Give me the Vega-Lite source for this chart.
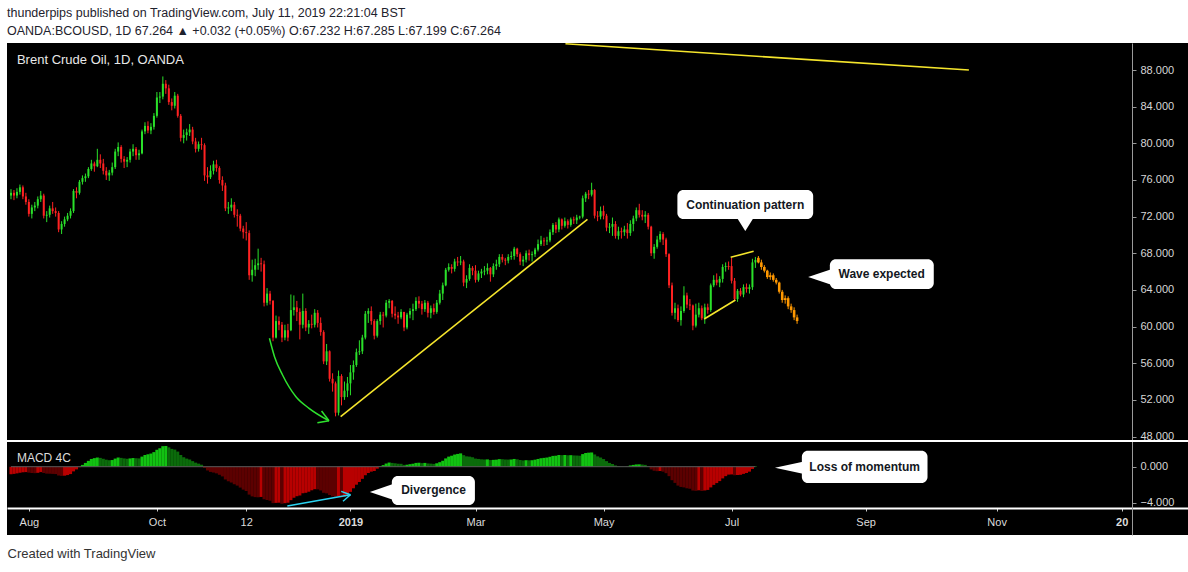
{
"$schema": "https://vega.github.io/schema/vega-lite/v6.json",
"width": 1181,
"height": 492,
"autosize": {"type": "none"},
"padding": {"left": 7, "top": 43, "right": 0, "bottom": 37},
"background": "#ffffff",
"title": {"text": "thunderpips published on TradingView.com, July 11, 2019 22:21:04 BST", "subtitle": "OANDA:BCOUSD, 1D  67.264 ▲ +0.032 (+0.05%)  O:67.232  H:67.285  L:67.199  C:67.264", "anchor": "start", "frame": "group", "offset": 6, "font": "Liberation Sans", "fontSize": 12.5, "fontWeight": "normal", "color": "#1e222d", "subtitleFont": "Liberation Sans", "subtitleFontSize": 12.5, "subtitleColor": "#1e222d", "subtitlePadding": 5},
"config": {"view": {"fill": "#000000", "stroke": null}, "font": "Liberation Sans"},
"datasets": {
"bars": [
{"i":0,"d":"2018-07-24","o":74.3,"h":75.0,"l":73.9,"c":74.6,"m":-0.85,"k":"nu"},
{"i":1,"d":"2018-07-25","o":74.6,"h":74.9,"l":73.8,"c":74.3,"m":-0.80,"k":"nu"},
{"i":2,"d":"2018-07-26","o":74.3,"h":75.1,"l":74.0,"c":74.7,"m":-0.74,"k":"nu"},
{"i":3,"d":"2018-07-27","o":74.7,"h":75.5,"l":74.4,"c":75.2,"m":-0.68,"k":"nu"},
{"i":4,"d":"2018-07-30","o":75.2,"h":75.4,"l":73.9,"c":74.2,"m":-0.62,"k":"nu"},
{"i":5,"d":"2018-07-31","o":74.2,"h":74.6,"l":73.3,"c":73.6,"m":-0.60,"k":"nu"},
{"i":6,"d":"2018-08-01","o":73.6,"h":73.9,"l":72.0,"c":72.3,"m":-0.66,"k":"nd"},
{"i":7,"d":"2018-08-02","o":72.3,"h":73.3,"l":71.8,"c":73.0,"m":-0.70,"k":"nd"},
{"i":8,"d":"2018-08-03","o":73.0,"h":73.6,"l":72.6,"c":73.2,"m":-0.72,"k":"nd"},
{"i":9,"d":"2018-08-06","o":73.2,"h":74.2,"l":72.9,"c":73.9,"m":-0.68,"k":"nu"},
{"i":10,"d":"2018-08-07","o":73.9,"h":74.8,"l":73.6,"c":74.3,"m":-0.60,"k":"nu"},
{"i":11,"d":"2018-08-08","o":74.3,"h":74.5,"l":71.8,"c":72.1,"m":-0.70,"k":"nd"},
{"i":12,"d":"2018-08-09","o":72.1,"h":72.6,"l":71.4,"c":72.2,"m":-0.77,"k":"nd"},
{"i":13,"d":"2018-08-10","o":72.2,"h":73.2,"l":71.9,"c":72.9,"m":-0.78,"k":"nd"},
{"i":14,"d":"2018-08-13","o":72.9,"h":73.6,"l":72.3,"c":72.6,"m":-0.80,"k":"nd"},
{"i":15,"d":"2018-08-14","o":72.6,"h":73.0,"l":72.0,"c":72.4,"m":-0.82,"k":"nd"},
{"i":16,"d":"2018-08-15","o":72.4,"h":72.6,"l":70.3,"c":70.6,"m":-0.98,"k":"nd"},
{"i":17,"d":"2018-08-16","o":70.6,"h":71.5,"l":70.1,"c":71.2,"m":-1.02,"k":"nd"},
{"i":18,"d":"2018-08-17","o":71.2,"h":72.0,"l":70.9,"c":71.7,"m":-1.00,"k":"nu"},
{"i":19,"d":"2018-08-20","o":71.7,"h":72.4,"l":71.5,"c":72.1,"m":-0.93,"k":"nu"},
{"i":20,"d":"2018-08-21","o":72.1,"h":72.9,"l":71.8,"c":72.6,"m":-0.82,"k":"nu"},
{"i":21,"d":"2018-08-22","o":72.6,"h":75.0,"l":72.4,"c":74.8,"m":-0.52,"k":"nu"},
{"i":22,"d":"2018-08-23","o":74.8,"h":75.2,"l":74.0,"c":74.6,"m":-0.30,"k":"nu"},
{"i":23,"d":"2018-08-24","o":74.6,"h":76.0,"l":74.4,"c":75.8,"m":-0.05,"k":"nu"},
{"i":24,"d":"2018-08-27","o":75.8,"h":76.5,"l":75.5,"c":76.2,"m":0.20,"k":"pu"},
{"i":25,"d":"2018-08-28","o":76.2,"h":76.7,"l":75.8,"c":76.4,"m":0.42,"k":"pu"},
{"i":26,"d":"2018-08-29","o":76.4,"h":77.4,"l":76.2,"c":77.2,"m":0.65,"k":"pu"},
{"i":27,"d":"2018-08-30","o":77.2,"h":78.2,"l":77.0,"c":77.8,"m":0.86,"k":"pu"},
{"i":28,"d":"2018-08-31","o":77.8,"h":78.0,"l":76.9,"c":77.5,"m":0.95,"k":"pu"},
{"i":29,"d":"2018-09-03","o":77.5,"h":79.4,"l":77.4,"c":78.2,"m":1.02,"k":"pu"},
{"i":30,"d":"2018-09-04","o":78.2,"h":78.8,"l":77.3,"c":77.8,"m":0.98,"k":"pd"},
{"i":31,"d":"2018-09-05","o":77.8,"h":78.3,"l":76.6,"c":77.0,"m":0.88,"k":"pd"},
{"i":32,"d":"2018-09-06","o":77.0,"h":77.4,"l":76.0,"c":76.5,"m":0.78,"k":"pd"},
{"i":33,"d":"2018-09-07","o":76.5,"h":77.1,"l":75.9,"c":76.8,"m":0.72,"k":"pd"},
{"i":34,"d":"2018-09-10","o":76.8,"h":77.9,"l":76.5,"c":77.4,"m":0.74,"k":"pu"},
{"i":35,"d":"2018-09-11","o":77.4,"h":79.4,"l":77.2,"c":79.1,"m":0.90,"k":"pu"},
{"i":36,"d":"2018-09-12","o":79.1,"h":80.1,"l":78.6,"c":79.6,"m":1.02,"k":"pu"},
{"i":37,"d":"2018-09-13","o":79.6,"h":79.8,"l":77.9,"c":78.3,"m":0.98,"k":"pd"},
{"i":38,"d":"2018-09-14","o":78.3,"h":78.6,"l":77.3,"c":78.0,"m":0.92,"k":"pd"},
{"i":39,"d":"2018-09-17","o":78.0,"h":78.5,"l":77.4,"c":78.2,"m":0.88,"k":"pd"},
{"i":40,"d":"2018-09-18","o":78.2,"h":79.4,"l":77.9,"c":79.1,"m":0.92,"k":"pu"},
{"i":41,"d":"2018-09-19","o":79.1,"h":79.9,"l":78.6,"c":79.4,"m":0.96,"k":"pu"},
{"i":42,"d":"2018-09-20","o":79.4,"h":79.6,"l":78.2,"c":78.7,"m":0.93,"k":"pd"},
{"i":43,"d":"2018-09-21","o":78.7,"h":79.3,"l":78.2,"c":78.9,"m":0.92,"k":"pd"},
{"i":44,"d":"2018-09-24","o":78.9,"h":81.5,"l":78.8,"c":81.3,"m":1.12,"k":"pu"},
{"i":45,"d":"2018-09-25","o":81.3,"h":82.3,"l":81.0,"c":81.9,"m":1.30,"k":"pu"},
{"i":46,"d":"2018-09-26","o":81.9,"h":82.4,"l":81.1,"c":81.4,"m":1.38,"k":"pu"},
{"i":47,"d":"2018-09-27","o":81.4,"h":82.2,"l":81.0,"c":81.8,"m":1.46,"k":"pu"},
{"i":48,"d":"2018-09-28","o":81.8,"h":83.3,"l":81.5,"c":83.0,"m":1.62,"k":"pu"},
{"i":49,"d":"2018-10-01","o":83.0,"h":85.6,"l":82.8,"c":85.0,"m":1.88,"k":"pu"},
{"i":50,"d":"2018-10-02","o":85.0,"h":85.6,"l":84.4,"c":85.1,"m":2.05,"k":"pu"},
{"i":51,"d":"2018-10-03","o":85.1,"h":87.3,"l":84.8,"c":86.5,"m":2.28,"k":"pu"},
{"i":52,"d":"2018-10-04","o":86.5,"h":86.9,"l":85.4,"c":86.0,"m":2.30,"k":"pu"},
{"i":53,"d":"2018-10-05","o":86.0,"h":86.4,"l":84.2,"c":84.5,"m":2.15,"k":"pd"},
{"i":54,"d":"2018-10-08","o":84.5,"h":84.9,"l":83.6,"c":84.1,"m":1.98,"k":"pd"},
{"i":55,"d":"2018-10-09","o":84.1,"h":85.6,"l":83.8,"c":85.2,"m":1.90,"k":"pd"},
{"i":56,"d":"2018-10-10","o":85.2,"h":85.4,"l":82.8,"c":83.0,"m":1.68,"k":"pd"},
{"i":57,"d":"2018-10-11","o":83.0,"h":83.2,"l":80.2,"c":80.6,"m":1.30,"k":"pd"},
{"i":58,"d":"2018-10-12","o":80.6,"h":81.5,"l":80.0,"c":80.9,"m":1.05,"k":"pd"},
{"i":59,"d":"2018-10-15","o":80.9,"h":81.6,"l":80.3,"c":81.2,"m":0.90,"k":"pd"},
{"i":60,"d":"2018-10-16","o":81.2,"h":82.1,"l":80.8,"c":81.5,"m":0.80,"k":"pd"},
{"i":61,"d":"2018-10-17","o":81.5,"h":81.8,"l":79.9,"c":80.2,"m":0.62,"k":"pd"},
{"i":62,"d":"2018-10-18","o":80.2,"h":80.6,"l":79.0,"c":79.4,"m":0.45,"k":"pd"},
{"i":63,"d":"2018-10-19","o":79.4,"h":80.2,"l":79.1,"c":79.9,"m":0.34,"k":"pd"},
{"i":64,"d":"2018-10-22","o":79.9,"h":80.6,"l":79.3,"c":79.8,"m":0.22,"k":"pd"},
{"i":65,"d":"2018-10-23","o":79.8,"h":80.0,"l":75.9,"c":76.5,"m":-0.14,"k":"nd"},
{"i":66,"d":"2018-10-24","o":76.5,"h":77.4,"l":75.6,"c":76.3,"m":-0.42,"k":"nd"},
{"i":67,"d":"2018-10-25","o":76.3,"h":77.6,"l":76.1,"c":77.0,"m":-0.58,"k":"nd"},
{"i":68,"d":"2018-10-26","o":77.0,"h":78.1,"l":76.6,"c":77.7,"m":-0.65,"k":"nd"},
{"i":69,"d":"2018-10-29","o":77.7,"h":78.2,"l":76.9,"c":77.3,"m":-0.74,"k":"nd"},
{"i":70,"d":"2018-10-30","o":77.3,"h":77.5,"l":75.6,"c":76.0,"m":-0.90,"k":"nd"},
{"i":71,"d":"2018-10-31","o":76.0,"h":76.4,"l":74.8,"c":75.4,"m":-1.08,"k":"nd"},
{"i":72,"d":"2018-11-01","o":75.4,"h":75.7,"l":72.6,"c":72.9,"m":-1.42,"k":"nd"},
{"i":73,"d":"2018-11-02","o":72.9,"h":73.6,"l":72.3,"c":73.0,"m":-1.62,"k":"nd"},
{"i":74,"d":"2018-11-05","o":73.0,"h":74.0,"l":72.6,"c":73.3,"m":-1.76,"k":"nd"},
{"i":75,"d":"2018-11-06","o":73.3,"h":73.6,"l":71.9,"c":72.2,"m":-1.95,"k":"nd"},
{"i":76,"d":"2018-11-07","o":72.2,"h":72.8,"l":70.9,"c":72.1,"m":-2.10,"k":"nd"},
{"i":77,"d":"2018-11-08","o":72.1,"h":72.3,"l":70.4,"c":70.7,"m":-2.32,"k":"nd"},
{"i":78,"d":"2018-11-09","o":70.7,"h":71.0,"l":69.6,"c":70.3,"m":-2.55,"k":"nd"},
{"i":79,"d":"2018-11-12","o":70.3,"h":71.4,"l":69.4,"c":70.2,"m":-2.70,"k":"nd"},
{"i":80,"d":"2018-11-13","o":70.2,"h":70.5,"l":65.1,"c":65.6,"m":-3.10,"k":"nd"},
{"i":81,"d":"2018-11-14","o":65.6,"h":67.3,"l":64.9,"c":66.2,"m":-3.30,"k":"nd"},
{"i":82,"d":"2018-11-15","o":66.2,"h":67.4,"l":65.5,"c":66.7,"m":-3.38,"k":"nd"},
{"i":83,"d":"2018-11-16","o":66.7,"h":68.5,"l":66.2,"c":66.9,"m":-3.40,"k":"nd"},
{"i":84,"d":"2018-11-19","o":66.9,"h":67.5,"l":66.0,"c":66.8,"m":-3.36,"k":"nu"},
{"i":85,"d":"2018-11-20","o":66.8,"h":67.2,"l":62.2,"c":62.6,"m":-3.62,"k":"nd"},
{"i":86,"d":"2018-11-21","o":62.6,"h":64.2,"l":62.3,"c":63.6,"m":-3.70,"k":"nd"},
{"i":87,"d":"2018-11-22","o":63.6,"h":63.9,"l":62.4,"c":62.8,"m":-3.78,"k":"nd"},
{"i":88,"d":"2018-11-23","o":62.8,"h":62.9,"l":58.4,"c":58.8,"m":-4.05,"k":"nd"},
{"i":89,"d":"2018-11-26","o":58.8,"h":61.2,"l":58.7,"c":60.6,"m":-4.02,"k":"nu"},
{"i":90,"d":"2018-11-27","o":60.6,"h":61.1,"l":59.6,"c":60.2,"m":-4.00,"k":"nu"},
{"i":91,"d":"2018-11-28","o":60.2,"h":60.5,"l":58.3,"c":58.8,"m":-4.12,"k":"nd"},
{"i":92,"d":"2018-11-29","o":58.8,"h":60.2,"l":58.5,"c":59.6,"m":-4.05,"k":"nu"},
{"i":93,"d":"2018-11-30","o":59.6,"h":60.3,"l":58.4,"c":58.8,"m":-4.00,"k":"nu"},
{"i":94,"d":"2018-12-03","o":59.6,"h":63.5,"l":59.5,"c":61.8,"m":-3.72,"k":"nu"},
{"i":95,"d":"2018-12-04","o":61.8,"h":63.4,"l":61.2,"c":62.1,"m":-3.45,"k":"nu"},
{"i":96,"d":"2018-12-05","o":62.1,"h":62.8,"l":60.6,"c":61.6,"m":-3.28,"k":"nu"},
{"i":97,"d":"2018-12-06","o":61.6,"h":62.0,"l":58.6,"c":60.2,"m":-3.20,"k":"nu"},
{"i":98,"d":"2018-12-07","o":60.2,"h":63.6,"l":59.8,"c":61.7,"m":-2.95,"k":"nu"},
{"i":99,"d":"2018-12-10","o":61.7,"h":62.0,"l":59.5,"c":59.9,"m":-2.90,"k":"nu"},
{"i":100,"d":"2018-12-11","o":59.9,"h":60.7,"l":59.2,"c":60.3,"m":-2.78,"k":"nu"},
{"i":101,"d":"2018-12-12","o":60.3,"h":61.3,"l":59.8,"c":60.2,"m":-2.62,"k":"nu"},
{"i":102,"d":"2018-12-13","o":60.2,"h":61.9,"l":59.9,"c":61.5,"m":-2.50,"k":"nu"},
{"i":103,"d":"2018-12-14","o":61.5,"h":61.8,"l":59.9,"c":60.4,"m":-2.52,"k":"nd"},
{"i":104,"d":"2018-12-17","o":60.4,"h":61.0,"l":59.0,"c":59.4,"m":-2.64,"k":"nd"},
{"i":105,"d":"2018-12-18","o":59.4,"h":59.6,"l":55.9,"c":56.2,"m":-2.90,"k":"nd"},
{"i":106,"d":"2018-12-19","o":56.2,"h":58.1,"l":55.8,"c":57.3,"m":-2.96,"k":"nd"},
{"i":107,"d":"2018-12-20","o":57.3,"h":57.4,"l":54.0,"c":54.3,"m":-3.15,"k":"nd"},
{"i":108,"d":"2018-12-21","o":54.3,"h":54.9,"l":52.9,"c":53.8,"m":-3.30,"k":"nd"},
{"i":109,"d":"2018-12-24","o":53.8,"h":54.0,"l":50.2,"c":50.6,"m":-3.45,"k":"nd"},
{"i":110,"d":"2018-12-26","o":50.6,"h":55.2,"l":50.3,"c":54.6,"m":-3.30,"k":"nu"},
{"i":111,"d":"2018-12-27","o":54.6,"h":54.8,"l":51.4,"c":52.3,"m":-3.40,"k":"nd"},
{"i":112,"d":"2018-12-28","o":52.3,"h":54.0,"l":52.0,"c":53.0,"m":-3.32,"k":"nu"},
{"i":113,"d":"2018-12-31","o":53.0,"h":54.5,"l":52.3,"c":53.8,"m":-3.15,"k":"nu"},
{"i":114,"d":"2019-01-02","o":53.8,"h":55.8,"l":52.5,"c":55.0,"m":-2.80,"k":"nu"},
{"i":115,"d":"2019-01-03","o":55.0,"h":56.3,"l":54.2,"c":55.8,"m":-2.40,"k":"nu"},
{"i":116,"d":"2019-01-04","o":55.8,"h":57.6,"l":55.6,"c":57.2,"m":-2.00,"k":"nu"},
{"i":117,"d":"2019-01-07","o":57.2,"h":58.5,"l":56.9,"c":57.3,"m":-1.70,"k":"nu"},
{"i":118,"d":"2019-01-08","o":57.3,"h":59.1,"l":57.0,"c":58.8,"m":-1.35,"k":"nu"},
{"i":119,"d":"2019-01-09","o":58.8,"h":61.7,"l":58.6,"c":61.4,"m":-0.95,"k":"nu"},
{"i":120,"d":"2019-01-10","o":61.4,"h":62.0,"l":60.4,"c":61.7,"m":-0.70,"k":"nu"},
{"i":121,"d":"2019-01-11","o":61.7,"h":62.2,"l":60.2,"c":60.6,"m":-0.55,"k":"nu"},
{"i":122,"d":"2019-01-14","o":60.6,"h":60.8,"l":58.6,"c":59.0,"m":-0.48,"k":"nu"},
{"i":123,"d":"2019-01-15","o":59.0,"h":60.8,"l":58.8,"c":60.6,"m":-0.22,"k":"nu"},
{"i":124,"d":"2019-01-16","o":60.6,"h":61.6,"l":60.2,"c":61.3,"m":0.05,"k":"pu"},
{"i":125,"d":"2019-01-17","o":61.3,"h":61.6,"l":59.9,"c":61.2,"m":0.18,"k":"pu"},
{"i":126,"d":"2019-01-18","o":61.2,"h":62.9,"l":61.0,"c":62.6,"m":0.35,"k":"pu"},
{"i":127,"d":"2019-01-21","o":62.6,"h":63.0,"l":62.0,"c":62.8,"m":0.46,"k":"pu"},
{"i":128,"d":"2019-01-22","o":62.8,"h":62.9,"l":61.0,"c":61.4,"m":0.42,"k":"pd"},
{"i":129,"d":"2019-01-23","o":61.4,"h":62.2,"l":60.8,"c":61.2,"m":0.38,"k":"pd"},
{"i":130,"d":"2019-01-24","o":61.2,"h":61.6,"l":60.3,"c":61.0,"m":0.33,"k":"pd"},
{"i":131,"d":"2019-01-25","o":61.0,"h":61.9,"l":60.8,"c":61.6,"m":0.32,"k":"pd"},
{"i":132,"d":"2019-01-28","o":61.6,"h":61.6,"l":59.5,"c":59.9,"m":0.20,"k":"pd"},
{"i":133,"d":"2019-01-29","o":59.9,"h":61.5,"l":59.7,"c":61.3,"m":0.22,"k":"pu"},
{"i":134,"d":"2019-01-30","o":61.3,"h":62.0,"l":60.9,"c":61.7,"m":0.28,"k":"pu"},
{"i":135,"d":"2019-01-31","o":61.7,"h":62.5,"l":60.7,"c":61.9,"m":0.33,"k":"pu"},
{"i":136,"d":"2019-02-01","o":61.9,"h":63.2,"l":61.7,"c":62.8,"m":0.42,"k":"pu"},
{"i":137,"d":"2019-02-04","o":62.8,"h":63.3,"l":62.0,"c":62.5,"m":0.44,"k":"pu"},
{"i":138,"d":"2019-02-05","o":62.5,"h":62.8,"l":61.3,"c":61.9,"m":0.40,"k":"pd"},
{"i":139,"d":"2019-02-06","o":61.9,"h":62.9,"l":61.6,"c":62.6,"m":0.42,"k":"pu"},
{"i":140,"d":"2019-02-07","o":62.6,"h":62.8,"l":61.0,"c":61.5,"m":0.36,"k":"pd"},
{"i":141,"d":"2019-02-08","o":61.5,"h":62.3,"l":60.9,"c":62.0,"m":0.34,"k":"pd"},
{"i":142,"d":"2019-02-11","o":62.0,"h":62.5,"l":61.3,"c":61.6,"m":0.31,"k":"pd"},
{"i":143,"d":"2019-02-12","o":61.6,"h":62.9,"l":61.4,"c":62.6,"m":0.38,"k":"pu"},
{"i":144,"d":"2019-02-13","o":62.6,"h":64.0,"l":62.4,"c":63.6,"m":0.50,"k":"pu"},
{"i":145,"d":"2019-02-14","o":63.6,"h":64.8,"l":62.9,"c":64.5,"m":0.66,"k":"pu"},
{"i":146,"d":"2019-02-15","o":64.5,"h":66.4,"l":64.4,"c":66.2,"m":0.92,"k":"pu"},
{"i":147,"d":"2019-02-18","o":66.2,"h":66.9,"l":66.0,"c":66.5,"m":1.12,"k":"pu"},
{"i":148,"d":"2019-02-19","o":66.5,"h":66.8,"l":65.8,"c":66.3,"m":1.22,"k":"pu"},
{"i":149,"d":"2019-02-20","o":66.3,"h":67.4,"l":66.0,"c":67.1,"m":1.35,"k":"pu"},
{"i":150,"d":"2019-02-21","o":67.1,"h":67.6,"l":66.6,"c":67.0,"m":1.42,"k":"pu"},
{"i":151,"d":"2019-02-22","o":67.0,"h":67.7,"l":66.7,"c":67.1,"m":1.48,"k":"pu"},
{"i":152,"d":"2019-02-25","o":67.1,"h":67.3,"l":64.4,"c":64.8,"m":1.28,"k":"pd"},
{"i":153,"d":"2019-02-26","o":64.8,"h":65.6,"l":64.2,"c":65.2,"m":1.15,"k":"pd"},
{"i":154,"d":"2019-02-27","o":65.2,"h":66.8,"l":65.0,"c":66.4,"m":1.12,"k":"pd"},
{"i":155,"d":"2019-02-28","o":66.4,"h":66.6,"l":65.6,"c":66.1,"m":1.05,"k":"pd"},
{"i":156,"d":"2019-03-01","o":66.1,"h":66.7,"l":64.8,"c":65.1,"m":0.90,"k":"pd"},
{"i":157,"d":"2019-03-04","o":65.1,"h":66.1,"l":64.9,"c":65.8,"m":0.86,"k":"pd"},
{"i":158,"d":"2019-03-05","o":65.8,"h":66.3,"l":65.3,"c":66.0,"m":0.82,"k":"pd"},
{"i":159,"d":"2019-03-06","o":66.0,"h":66.6,"l":65.6,"c":66.1,"m":0.80,"k":"pd"},
{"i":160,"d":"2019-03-07","o":66.1,"h":66.9,"l":65.7,"c":66.4,"m":0.81,"k":"pu"},
{"i":161,"d":"2019-03-08","o":66.4,"h":66.5,"l":64.9,"c":65.7,"m":0.74,"k":"pd"},
{"i":162,"d":"2019-03-11","o":65.7,"h":66.9,"l":65.4,"c":66.6,"m":0.76,"k":"pu"},
{"i":163,"d":"2019-03-12","o":66.6,"h":67.3,"l":66.2,"c":66.8,"m":0.78,"k":"pu"},
{"i":164,"d":"2019-03-13","o":66.8,"h":67.9,"l":66.5,"c":67.6,"m":0.84,"k":"pu"},
{"i":165,"d":"2019-03-14","o":67.6,"h":67.9,"l":67.0,"c":67.3,"m":0.83,"k":"pd"},
{"i":166,"d":"2019-03-15","o":67.3,"h":67.5,"l":66.7,"c":67.2,"m":0.80,"k":"pd"},
{"i":167,"d":"2019-03-18","o":67.2,"h":67.9,"l":66.9,"c":67.6,"m":0.79,"k":"pd"},
{"i":168,"d":"2019-03-19","o":67.6,"h":68.2,"l":67.3,"c":67.7,"m":0.80,"k":"pu"},
{"i":169,"d":"2019-03-20","o":67.7,"h":68.7,"l":67.3,"c":68.5,"m":0.86,"k":"pu"},
{"i":170,"d":"2019-03-21","o":68.5,"h":68.6,"l":67.6,"c":67.9,"m":0.82,"k":"pd"},
{"i":171,"d":"2019-03-22","o":67.9,"h":68.1,"l":66.7,"c":67.1,"m":0.74,"k":"pd"},
{"i":172,"d":"2019-03-25","o":67.1,"h":67.7,"l":66.6,"c":67.3,"m":0.70,"k":"pd"},
{"i":173,"d":"2019-03-26","o":67.3,"h":68.3,"l":67.0,"c":68.0,"m":0.72,"k":"pu"},
{"i":174,"d":"2019-03-27","o":68.0,"h":68.4,"l":67.2,"c":67.8,"m":0.71,"k":"pd"},
{"i":175,"d":"2019-03-28","o":67.8,"h":68.2,"l":67.1,"c":67.9,"m":0.72,"k":"pu"},
{"i":176,"d":"2019-03-29","o":67.9,"h":68.6,"l":67.6,"c":68.4,"m":0.78,"k":"pu"},
{"i":177,"d":"2019-04-01","o":68.4,"h":69.5,"l":68.2,"c":69.0,"m":0.86,"k":"pu"},
{"i":178,"d":"2019-04-02","o":69.0,"h":69.9,"l":68.8,"c":69.4,"m":0.94,"k":"pu"},
{"i":179,"d":"2019-04-03","o":69.4,"h":69.7,"l":68.8,"c":69.3,"m":0.98,"k":"pu"},
{"i":180,"d":"2019-04-04","o":69.3,"h":69.8,"l":68.9,"c":69.4,"m":1.02,"k":"pu"},
{"i":181,"d":"2019-04-05","o":69.4,"h":70.6,"l":69.2,"c":70.3,"m":1.10,"k":"pu"},
{"i":182,"d":"2019-04-08","o":70.3,"h":71.3,"l":70.0,"c":71.1,"m":1.20,"k":"pu"},
{"i":183,"d":"2019-04-09","o":71.1,"h":71.4,"l":70.2,"c":70.6,"m":1.22,"k":"pu"},
{"i":184,"d":"2019-04-10","o":70.6,"h":71.9,"l":70.3,"c":71.7,"m":1.30,"k":"pu"},
{"i":185,"d":"2019-04-11","o":71.7,"h":71.8,"l":70.6,"c":71.0,"m":1.28,"k":"pd"},
{"i":186,"d":"2019-04-12","o":71.0,"h":71.9,"l":70.8,"c":71.5,"m":1.30,"k":"pu"},
{"i":187,"d":"2019-04-15","o":71.5,"h":71.7,"l":70.7,"c":71.1,"m":1.27,"k":"pd"},
{"i":188,"d":"2019-04-16","o":71.1,"h":71.9,"l":70.9,"c":71.7,"m":1.28,"k":"pu"},
{"i":189,"d":"2019-04-17","o":71.7,"h":72.0,"l":71.2,"c":71.6,"m":1.25,"k":"pd"},
{"i":190,"d":"2019-04-18","o":71.6,"h":72.2,"l":71.2,"c":71.9,"m":1.24,"k":"pd"},
{"i":191,"d":"2019-04-19","o":71.9,"h":72.1,"l":71.7,"c":72.0,"m":1.22,"k":"pd"},
{"i":192,"d":"2019-04-22","o":72.0,"h":74.3,"l":71.8,"c":74.0,"m":1.40,"k":"pu"},
{"i":193,"d":"2019-04-23","o":74.0,"h":74.7,"l":73.6,"c":74.5,"m":1.52,"k":"pu"},
{"i":194,"d":"2019-04-24","o":74.5,"h":74.9,"l":73.9,"c":74.4,"m":1.56,"k":"pu"},
{"i":195,"d":"2019-04-25","o":74.4,"h":75.7,"l":74.2,"c":74.9,"m":1.58,"k":"pu"},
{"i":196,"d":"2019-04-26","o":74.9,"h":75.0,"l":71.8,"c":72.1,"m":1.36,"k":"pd"},
{"i":197,"d":"2019-04-29","o":72.1,"h":72.6,"l":71.5,"c":72.0,"m":1.15,"k":"pd"},
{"i":198,"d":"2019-04-30","o":72.0,"h":73.1,"l":71.7,"c":72.6,"m":1.02,"k":"pd"},
{"i":199,"d":"2019-05-01","o":72.6,"h":73.2,"l":71.7,"c":72.1,"m":0.85,"k":"pd"},
{"i":200,"d":"2019-05-02","o":72.1,"h":72.3,"l":70.4,"c":70.8,"m":0.62,"k":"pd"},
{"i":201,"d":"2019-05-03","o":70.8,"h":71.3,"l":70.2,"c":70.9,"m":0.42,"k":"pd"},
{"i":202,"d":"2019-05-06","o":70.9,"h":71.9,"l":69.9,"c":71.2,"m":0.30,"k":"pd"},
{"i":203,"d":"2019-05-07","o":71.2,"h":71.5,"l":69.6,"c":69.9,"m":0.14,"k":"pd"},
{"i":204,"d":"2019-05-08","o":69.9,"h":70.9,"l":69.5,"c":70.4,"m":0.06,"k":"pd"},
{"i":205,"d":"2019-05-09","o":70.4,"h":70.8,"l":69.6,"c":70.3,"m":0.02,"k":"pd"},
{"i":206,"d":"2019-05-10","o":70.3,"h":71.0,"l":69.9,"c":70.6,"m":0.01,"k":"pd"},
{"i":207,"d":"2019-05-13","o":70.6,"h":71.3,"l":69.6,"c":70.2,"m":0.03,"k":"pu"},
{"i":208,"d":"2019-05-14","o":70.2,"h":71.6,"l":69.9,"c":71.2,"m":0.14,"k":"pu"},
{"i":209,"d":"2019-05-15","o":71.2,"h":72.1,"l":70.4,"c":71.8,"m":0.20,"k":"pu"},
{"i":210,"d":"2019-05-16","o":71.8,"h":73.0,"l":71.5,"c":72.7,"m":0.25,"k":"pu"},
{"i":211,"d":"2019-05-17","o":72.7,"h":73.4,"l":71.9,"c":72.2,"m":0.26,"k":"pu"},
{"i":212,"d":"2019-05-20","o":72.2,"h":72.7,"l":71.6,"c":72.0,"m":0.24,"k":"pd"},
{"i":213,"d":"2019-05-21","o":72.0,"h":72.6,"l":71.3,"c":72.2,"m":0.20,"k":"pd"},
{"i":214,"d":"2019-05-22","o":72.2,"h":72.4,"l":70.6,"c":70.9,"m":0.05,"k":"pd"},
{"i":215,"d":"2019-05-23","o":70.9,"h":71.0,"l":67.7,"c":68.0,"m":-0.30,"k":"nd"},
{"i":216,"d":"2019-05-24","o":68.0,"h":69.0,"l":67.4,"c":68.7,"m":-0.45,"k":"nd"},
{"i":217,"d":"2019-05-27","o":68.7,"h":69.9,"l":68.5,"c":69.5,"m":-0.50,"k":"nd"},
{"i":218,"d":"2019-05-28","o":69.5,"h":70.4,"l":69.2,"c":70.1,"m":-0.48,"k":"nu"},
{"i":219,"d":"2019-05-29","o":70.1,"h":70.3,"l":68.9,"c":69.5,"m":-0.55,"k":"nd"},
{"i":220,"d":"2019-05-30","o":69.5,"h":69.7,"l":67.6,"c":67.9,"m":-0.72,"k":"nd"},
{"i":221,"d":"2019-05-31","o":67.9,"h":68.0,"l":64.2,"c":64.5,"m":-1.05,"k":"nd"},
{"i":222,"d":"2019-06-03","o":64.5,"h":64.8,"l":61.2,"c":61.5,"m":-1.50,"k":"nd"},
{"i":223,"d":"2019-06-04","o":61.5,"h":62.6,"l":60.8,"c":62.0,"m":-1.80,"k":"nd"},
{"i":224,"d":"2019-06-05","o":62.0,"h":62.4,"l":60.5,"c":60.7,"m":-2.10,"k":"nd"},
{"i":225,"d":"2019-06-06","o":60.7,"h":62.2,"l":60.1,"c":61.7,"m":-2.25,"k":"nd"},
{"i":226,"d":"2019-06-07","o":61.7,"h":64.4,"l":61.5,"c":63.4,"m":-2.30,"k":"nd"},
{"i":227,"d":"2019-06-10","o":63.4,"h":63.7,"l":62.0,"c":62.4,"m":-2.40,"k":"nd"},
{"i":228,"d":"2019-06-11","o":62.4,"h":63.0,"l":61.8,"c":62.3,"m":-2.45,"k":"nd"},
{"i":229,"d":"2019-06-12","o":62.3,"h":62.4,"l":59.6,"c":60.1,"m":-2.65,"k":"nd"},
{"i":230,"d":"2019-06-13","o":60.1,"h":62.5,"l":59.9,"c":61.3,"m":-2.68,"k":"nd"},
{"i":231,"d":"2019-06-14","o":61.3,"h":62.6,"l":61.0,"c":62.0,"m":-2.62,"k":"nu"},
{"i":232,"d":"2019-06-17","o":62.0,"h":62.3,"l":60.7,"c":60.9,"m":-2.70,"k":"nd"},
{"i":233,"d":"2019-06-18","o":60.9,"h":62.5,"l":60.3,"c":62.1,"m":-2.64,"k":"nu"},
{"i":234,"d":"2019-06-19","o":62.1,"h":62.5,"l":61.4,"c":61.8,"m":-2.58,"k":"nu"},
{"i":235,"d":"2019-06-20","o":61.8,"h":64.7,"l":61.6,"c":64.5,"m":-2.30,"k":"nu"},
{"i":236,"d":"2019-06-21","o":64.5,"h":65.6,"l":64.3,"c":65.1,"m":-2.02,"k":"nu"},
{"i":237,"d":"2019-06-24","o":65.1,"h":65.8,"l":64.5,"c":64.8,"m":-1.82,"k":"nu"},
{"i":238,"d":"2019-06-25","o":64.8,"h":65.5,"l":64.3,"c":65.2,"m":-1.60,"k":"nu"},
{"i":239,"d":"2019-06-26","o":65.2,"h":66.8,"l":64.8,"c":66.5,"m":-1.30,"k":"nu"},
{"i":240,"d":"2019-06-27","o":66.5,"h":67.0,"l":66.0,"c":66.6,"m":-1.05,"k":"nu"},
{"i":241,"d":"2019-06-28","o":66.6,"h":67.1,"l":66.2,"c":66.5,"m":-0.88,"k":"nu"},
{"i":242,"d":"2019-07-01","o":66.6,"h":67.5,"l":64.7,"c":65.0,"m":-0.86,"k":"nu"},
{"i":243,"d":"2019-07-02","o":65.0,"h":65.3,"l":62.8,"c":63.0,"m":-0.95,"k":"nd"},
{"i":244,"d":"2019-07-03","o":63.0,"h":64.1,"l":62.7,"c":63.9,"m":-0.92,"k":"nu"},
{"i":245,"d":"2019-07-04","o":63.9,"h":64.2,"l":63.3,"c":63.5,"m":-0.90,"k":"nu"},
{"i":246,"d":"2019-07-05","o":63.5,"h":64.6,"l":63.2,"c":64.3,"m":-0.80,"k":"nu"},
{"i":247,"d":"2019-07-08","o":64.3,"h":64.7,"l":63.7,"c":64.1,"m":-0.70,"k":"nu"},
{"i":248,"d":"2019-07-09","o":64.1,"h":64.6,"l":63.6,"c":64.3,"m":-0.55,"k":"nu"},
{"i":249,"d":"2019-07-10","o":64.3,"h":67.4,"l":64.0,"c":67.0,"m":-0.25,"k":"nu"},
{"i":250,"d":"2019-07-11","o":67.0,"h":67.6,"l":66.4,"c":67.26,"m":0.04,"k":"pu"}
],
"proj": [
{"i":251,"d":"2019-07-12","o":67.5,"h":67.7,"l":66.9,"c":67.0},
{"i":252,"d":"2019-07-15","o":67.0,"h":67.3,"l":66.2,"c":66.5},
{"i":253,"d":"2019-07-16","o":66.5,"h":66.7,"l":65.9,"c":66.1},
{"i":254,"d":"2019-07-17","o":66.1,"h":66.2,"l":65.2,"c":65.4},
{"i":255,"d":"2019-07-18","o":65.4,"h":65.9,"l":65.1,"c":65.6},
{"i":256,"d":"2019-07-19","o":65.6,"h":65.8,"l":64.9,"c":65.1},
{"i":257,"d":"2019-07-22","o":65.1,"h":65.3,"l":64.6,"c":64.8},
{"i":258,"d":"2019-07-23","o":64.8,"h":64.9,"l":63.6,"c":63.8},
{"i":259,"d":"2019-07-24","o":63.8,"h":64.0,"l":62.6,"c":62.9},
{"i":260,"d":"2019-07-25","o":62.9,"h":63.4,"l":62.5,"c":63.1},
{"i":261,"d":"2019-07-26","o":63.1,"h":63.3,"l":61.9,"c":62.2},
{"i":262,"d":"2019-07-29","o":62.2,"h":62.5,"l":61.5,"c":61.8},
{"i":263,"d":"2019-07-30","o":61.8,"h":62.1,"l":60.7,"c":61.0},
{"i":264,"d":"2019-07-31","o":61.0,"h":61.3,"l":60.3,"c":60.6}
],
"yellow": [
{"g":"top","i":186.2,"p":90.86},{"g":"top","i":321.7,"p":88.0},
{"g":"trend","i":110.7,"p":50.16},{"g":"trend","i":193.6,"p":71.7},
{"g":"flagLow","i":232.8,"p":60.82},{"g":"flagLow","i":243.3,"p":62.9},
{"g":"flagHigh","i":241.7,"p":67.56},{"g":"flagHigh","i":249.4,"p":68.21}
],
"green": [
{"g":"curve","i":86.8,"p":58.72},{"g":"curve","i":88.5,"p":56.71},{"g":"curve","i":91.2,"p":54.71},{"g":"curve","i":95.7,"p":52.34},{"g":"curve","i":100.1,"p":51.08},{"g":"curve","i":106.8,"p":49.72},
{"g":"a1","i":102.9,"p":49.51},{"g":"a1","i":106.8,"p":49.72},
{"g":"a2","i":104.3,"p":50.78},{"g":"a2","i":106.8,"p":49.72}
],
"cyan": [
{"g":"shaft","i":92.8,"m":-4.37},{"g":"shaft","i":114.0,"m":-3.12},
{"g":"a1","i":110.9,"m":-2.74},{"g":"a1","i":114.0,"m":-3.12},
{"g":"a2","i":111.5,"m":-3.84},{"g":"a2","i":114.0,"m":-3.12}
]
},
"layer": [
{"layer": [
{"data": {"name": "bars"}, "mark": {"type": "rule", "strokeWidth": 1},
 "encoding": {
  "x": {"field": "i", "type": "quantitative", "scale": {"domain": [0.34, 393.6], "nice": false, "zero": false},
   "axis": {"orient": "bottom", "offset": -27, "values": [6, 49, 79, 114, 156, 199, 242, 287, 331, 373],
    "labelExpr": "datum.value == 6 ? 'Aug' : datum.value == 49 ? 'Oct' : datum.value == 79 ? '12' : datum.value == 114 ? '2019' : datum.value == 156 ? 'Mar' : datum.value == 199 ? 'May' : datum.value == 242 ? 'Jul' : datum.value == 287 ? 'Sep' : datum.value == 331 ? 'Nov' : '20'",
    "labelFontWeight": {"condition": {"test": "datum.value == 114 || datum.value == 373", "value": "bold"}, "value": "normal"},
    "grid": false, "domainColor": "#ffffff", "domainWidth": 2, "tickColor": "#c8c8c8", "tickSize": 3,
    "labelColor": "#dcdcdc", "labelFontSize": 11, "labelFont": "Liberation Sans", "labelPadding": 5, "labelOverlap": false, "labelFlush": false,
    "title": "Created with TradingView", "titleX": 0, "titleY": 45, "titleAlign": "left", "titleAnchor": "start", "titleBaseline": "middle",
    "titleColor": "#333333", "titleFontSize": 13, "titleFontWeight": "normal", "titleFont": "Liberation Sans"}},
  "y": {"field": "l", "type": "quantitative", "scale": {"domain": [37.25, 90.95], "nice": false, "zero": false},
   "axis": {"orient": "right", "offset": -56, "values": [48, 52, 56, 60, 64, 68, 72, 76, 80, 84, 88], "format": ".3f", "title": null, "grid": false,
    "domainColor": "#9a9a9a", "domainWidth": 1, "tickColor": "#9a9a9a", "tickSize": 4, "labelColor": "#d6d6d6", "labelFontSize": 11, "labelFont": "Liberation Sans", "labelPadding": 4, "labelOverlap": false, "labelFlush": false}},
  "y2": {"field": "h"},
  "color": {"condition": {"test": "datum.c >= datum.o", "value": "#2ae02a"}, "value": "#ff2222"}
 }},
{"data": {"name": "bars"}, "mark": {"type": "bar", "size": 2, "orient": "vertical"},
 "encoding": {
  "x": {"field": "i", "type": "quantitative"},
  "y": {"field": "o", "type": "quantitative"},
  "y2": {"field": "c"},
  "color": {"condition": {"test": "datum.c >= datum.o", "value": "#2ae02a"}, "value": "#ff2222"}
 }},
{"data": {"name": "proj"}, "mark": {"type": "rule", "strokeWidth": 1, "color": "#ff9800"},
 "encoding": {"x": {"field": "i", "type": "quantitative"}, "y": {"field": "l", "type": "quantitative"}, "y2": {"field": "h"}}},
{"data": {"name": "proj"}, "mark": {"type": "bar", "size": 2.6, "orient": "vertical", "color": "#ff9800"},
 "encoding": {"x": {"field": "i", "type": "quantitative"}, "y": {"field": "o", "type": "quantitative"}, "y2": {"field": "c"}}},
{"data": {"name": "yellow"}, "mark": {"type": "line", "color": "#f5e52c", "strokeWidth": 1.6, "clip": true},
 "encoding": {"x": {"field": "i", "type": "quantitative"}, "y": {"field": "p", "type": "quantitative"}, "detail": {"field": "g"}}},
{"data": {"name": "green"}, "mark": {"type": "line", "color": "#2ee22e", "strokeWidth": 1.5, "interpolate": "monotone", "clip": true},
 "encoding": {"x": {"field": "i", "type": "quantitative"}, "y": {"field": "p", "type": "quantitative"}, "detail": {"field": "g"}}},
{"data": {"values": [{}]}, "mark": {"type": "rule", "color": "#ffffff", "strokeWidth": 2},
 "encoding": {"y": {"datum": 47.51}}},
{"data": {"values": [{}]}, "mark": {"type": "rect", "color": "#ffffff", "cornerRadius": 6},
 "encoding": {"x": {"datum": 223.8}, "x2": {"datum": 269.4}, "y": {"datum": 74.9}, "y2": {"datum": 71.74}}},
{"data": {"values": [{}]}, "mark": {"type": "point", "filled": true, "color": "#ffffff", "opacity": 1, "shape": "M -0.7 -0.62 L 0.7 -0.62 L 0 0.5 Z", "size": 590},
 "encoding": {"x": {"datum": 246.6}, "y": {"datum": 71.08}}},
{"data": {"values": [{}]}, "mark": {"type": "text", "text": "Continuation pattern", "font": "Liberation Sans", "fontWeight": "bold", "fontSize": 12, "color": "#131722", "align": "center", "baseline": "middle"},
 "encoding": {"x": {"datum": 246.6}, "y": {"datum": 73.32}}},
{"data": {"values": [{}]}, "mark": {"type": "rect", "color": "#ffffff", "cornerRadius": 6},
 "encoding": {"x": {"datum": 275.0}, "x2": {"datum": 309.9}, "y": {"datum": 67.34}, "y2": {"datum": 64.1}}},
{"data": {"values": [{}]}, "mark": {"type": "point", "filled": true, "color": "#ffffff", "opacity": 1, "shape": "M 0.62 -0.38 L 0.62 0.38 L -0.5 0 Z", "size": 1936},
 "encoding": {"x": {"datum": 271.4}, "y": {"datum": 65.41}}},
{"data": {"values": [{}]}, "mark": {"type": "text", "text": "Wave expected", "font": "Liberation Sans", "fontWeight": "bold", "fontSize": 12, "color": "#131722", "align": "center", "baseline": "middle"},
 "encoding": {"x": {"datum": 292.4}, "y": {"datum": 65.74}}},
{"data": {"values": [{}]}, "mark": {"type": "text", "text": "Brent Crude Oil, 1D, OANDA", "font": "Liberation Sans", "fontSize": 13, "color": "#e8e8e8", "align": "left", "baseline": "middle"},
 "encoding": {"x": {"datum": 2.0}, "y": {"datum": 89.06}}}
]},
{"layer": [
{"data": {"name": "bars"}, "mark": {"type": "bar", "size": 3.1, "orient": "vertical"},
 "encoding": {
  "x": {"field": "i", "type": "quantitative"},
  "y": {"field": "m", "type": "quantitative", "scale": {"domain": [-7.59, 47.08], "nice": false, "zero": false},
   "axis": {"orient": "right", "offset": -56, "values": [0, -4], "format": ".3f", "title": null, "grid": false, "domain": false,
    "tickColor": "#9a9a9a", "tickSize": 4, "labelColor": "#d6d6d6", "labelFontSize": 11, "labelFont": "Liberation Sans", "labelPadding": 4, "labelOverlap": false, "labelFlush": false}},
  "y2": {"datum": 0},
  "color": {"field": "k", "type": "nominal", "legend": null, "scale": {"domain": ["pu", "pd", "nu", "nd"], "range": ["#12c212", "#0b6b0b", "#b80000", "#5c0000"]}}
 }},
{"data": {"values": [{}]}, "mark": {"type": "rule", "color": "#5a5a5a", "strokeWidth": 1},
 "encoding": {"x": {"datum": 0}, "x2": {"datum": 250}, "y": {"datum": 0}}},
{"data": {"name": "cyan"}, "mark": {"type": "line", "color": "#2ad4f2", "strokeWidth": 1.5, "clip": true},
 "encoding": {"x": {"field": "i", "type": "quantitative"}, "y": {"field": "m", "type": "quantitative"}, "detail": {"field": "g"}}},
{"data": {"values": [{}]}, "mark": {"type": "rect", "color": "#ffffff", "cornerRadius": 6},
 "encoding": {"x": {"datum": 265.6}, "x2": {"datum": 307.8}, "y": {"datum": 1.78}, "y2": {"datum": -1.8}}},
{"data": {"values": [{}]}, "mark": {"type": "point", "filled": true, "color": "#ffffff", "opacity": 1, "shape": "M 0.62 -0.24 L 0.62 0.24 L -0.5 0 Z", "size": 2916},
 "encoding": {"x": {"datum": 261.1}, "y": {"datum": -0.11}}},
{"data": {"values": [{}]}, "mark": {"type": "text", "text": "Loss of momentum", "font": "Liberation Sans", "fontWeight": "bold", "fontSize": 12, "color": "#131722", "align": "center", "baseline": "middle"},
 "encoding": {"x": {"datum": 286.7}, "y": {"datum": -0.01}}},
{"data": {"values": [{}]}, "mark": {"type": "rect", "color": "#ffffff", "cornerRadius": 6},
 "encoding": {"x": {"datum": 127.9}, "x2": {"datum": 155.8}, "y": {"datum": -1.03}, "y2": {"datum": -4.26}}},
{"data": {"values": [{}]}, "mark": {"type": "point", "filled": true, "color": "#ffffff", "opacity": 1, "shape": "M 0.62 -0.38 L 0.62 0.38 L -0.5 0 Z", "size": 1936},
 "encoding": {"x": {"datum": 124.2}, "y": {"datum": -2.81}}},
{"data": {"values": [{}]}, "mark": {"type": "text", "text": "Divergence", "font": "Liberation Sans", "fontWeight": "bold", "fontSize": 12, "color": "#131722", "align": "center", "baseline": "middle"},
 "encoding": {"x": {"datum": 141.9}, "y": {"datum": -2.64}}},
{"data": {"values": [{}]}, "mark": {"type": "text", "text": "MACD 4C", "font": "Liberation Sans", "fontSize": 12, "color": "#dddddd", "align": "left", "baseline": "middle"},
 "encoding": {"x": {"datum": 2.0}, "y": {"datum": 0.93}}}
]}
],
"resolve": {"scale": {"y": "independent"}}
}
